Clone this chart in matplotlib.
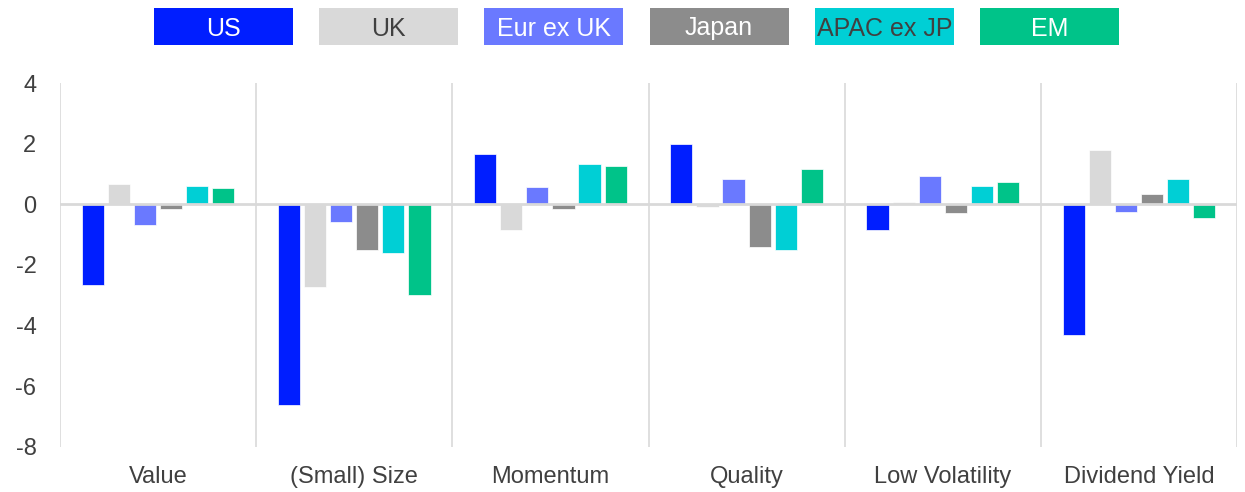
import numpy as np
import matplotlib
matplotlib.use("Agg")
from matplotlib import pyplot as plt
from matplotlib.patches import Rectangle

plt.rcParams['font.family'] = ['Liberation Sans', 'DejaVu Sans']
plt.rcParams['axes.unicode_minus'] = False

# ---- data ----
factors = ['Value', '(Small) Size', 'Momentum', 'Quality', 'Low Volatility', 'Dividend Yield']
regions = ['US', 'UK', 'Eur ex UK', 'Japan', 'APAC ex JP', 'EM']
us = [-2.67, -6.61, 1.67, 1.99, -0.83, -4.32]
uk = [0.66, -2.74, -0.83, -0.10, 0.08, 1.78]
eur_ex_uk = [-0.69, -0.57, 0.56, 0.82, 0.95, -0.25]
japan = [-0.17, -1.50, -0.17, -1.42, -0.30, 0.35]
apac_ex_jp = [0.60, -1.62, 1.34, -1.49, 0.62, 0.82]
em = [0.54, -3.00, 1.27, 1.15, 0.75, -0.44]

series = [us, uk, eur_ex_uk, japan, apac_ex_jp, em]
colors = ['#001EFF', '#D9D9D9', '#6A79FF', '#8C8C8C', '#00CFD5', '#00C389']
text_colors = ['white', '#404040', 'white', 'white', '#404040', 'white']
grid_col = '#D9D9D9'
txt_col = '#404040'

# ---- figure ----
fig = plt.figure(figsize=(12.45, 4.92), dpi=100)
ax = fig.add_axes([0.0482, 0.0915, 0.9454, 0.7398])

x = np.arange(len(factors))
step = 0.133
width = 0.113
for i, (vals, col) in enumerate(zip(series, colors)):
    offs = (i - (len(series) - 1) / 2) * step
    ax.bar(x + offs, vals, width=width, color=col, edgecolor='white',
           linewidth=0.5, zorder=2)

# separators between groups + zero line
for b in np.arange(len(factors) + 1) - 0.5:
    ax.axvline(b, color=grid_col, lw=1.2, zorder=1)
ax.axhline(0, color=grid_col, lw=2, zorder=3)

ax.set_xlim(-0.5, len(factors) - 0.5)
ax.set_ylim(-8, 4)
ax.set_yticks(np.arange(-8, 5, 2))
ax.set_xticks(x)
ax.set_xticklabels(factors)
for s in ax.spines.values():
    s.set_visible(False)
ax.tick_params(axis='both', length=0, labelsize=17, colors=txt_col)
ax.tick_params(axis='y', pad=17)
ax.tick_params(axis='x', pad=14)

# ---- legend: coloured boxes with text inside ----
W, H = 1245.0, 492.0
box_w, box_h, box_step = 139, 37, 165.2
x0, y_top = 154, 8
for i, (name, col, tcol) in enumerate(zip(regions, colors, text_colors)):
    bx = x0 + i * box_step
    fig.patches.append(Rectangle((bx / W, 1 - (y_top + box_h) / H), box_w / W, box_h / H,
                                 transform=fig.transFigure, facecolor=col,
                                 edgecolor='none'))
    # baseline placed so the capitals sit centred in the box
    fig.text((bx + box_w / 2) / W, 1 - (y_top + box_h / 2 + 9) / H, name,
             ha='center', va='baseline', fontsize=18, color=tcol)

fig.savefig('out.png', dpi=100)
